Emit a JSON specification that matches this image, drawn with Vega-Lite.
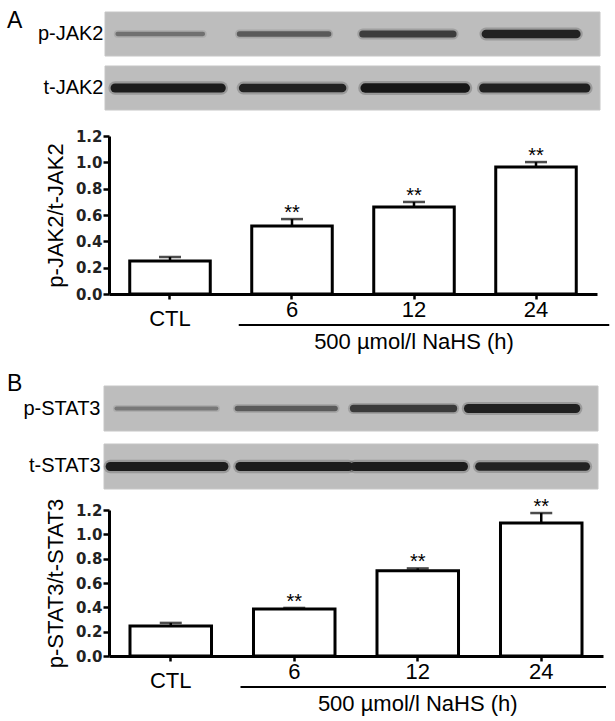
{
  "$schema": "https://vega.github.io/schema/vega-lite/v6.json",
  "padding": {"left": 7, "top": 0, "right": 5, "bottom": 5},
  "background": "white",
  "bounds": "flush",
  "spacing": 0,
  "config": {"view": {"stroke": null}, "font": "Liberation Sans"},
  "datasets": {
    "rowsA": [{"row": "p-JAK2"}, {"row": "t-JAK2"}],
    "rowsB": [{"row": "p-STAT3"}, {"row": "t-STAT3"}],
    "bandsA": [
      {"row": "p-JAK2", "lane": "CTL", "x0": 0.07, "x1": 0.77, "density": 0.35},
      {"row": "p-JAK2", "lane": "6", "x0": 1.07, "x1": 1.8, "density": 0.5},
      {"row": "p-JAK2", "lane": "12", "x0": 2.08, "x1": 2.82, "density": 0.7},
      {"row": "p-JAK2", "lane": "24", "x0": 3.09, "x1": 3.83, "density": 0.9},
      {"row": "t-JAK2", "lane": "CTL", "x0": 0.05, "x1": 0.92, "density": 0.95},
      {"row": "t-JAK2", "lane": "6", "x0": 1.1, "x1": 1.91, "density": 0.9},
      {"row": "t-JAK2", "lane": "12", "x0": 2.1, "x1": 2.92, "density": 1.0},
      {"row": "t-JAK2", "lane": "24", "x0": 3.07, "x1": 3.91, "density": 0.92}
    ],
    "bandsB": [
      {"row": "p-STAT3", "lane": "CTL", "x0": 0.06, "x1": 0.87, "density": 0.3},
      {"row": "p-STAT3", "lane": "6", "x0": 1.04, "x1": 1.83, "density": 0.5},
      {"row": "p-STAT3", "lane": "12", "x0": 1.98, "x1": 2.79, "density": 0.72},
      {"row": "p-STAT3", "lane": "24", "x0": 2.91, "x1": 3.78, "density": 0.92},
      {"row": "t-STAT3", "lane": "CTL", "x0": 0.01, "x1": 0.93, "density": 0.95},
      {"row": "t-STAT3", "lane": "6", "x0": 1.06, "x1": 1.94, "density": 0.95},
      {"row": "t-STAT3", "lane": "12", "x0": 1.99, "x1": 2.87, "density": 0.95},
      {"row": "t-STAT3", "lane": "24", "x0": 3.0, "x1": 3.86, "density": 0.9}
    ],
    "barsA": [
      {"group": "CTL", "value": 0.251, "err": 0.281, "sig": ""},
      {"group": "6", "value": 0.516, "err": 0.569, "sig": "**"},
      {"group": "12", "value": 0.66, "err": 0.699, "sig": "**"},
      {"group": "24", "value": 0.964, "err": 1.002, "sig": "**"}
    ],
    "barsB": [
      {"group": "CTL", "value": 0.247, "err": 0.272, "sig": ""},
      {"group": "6", "value": 0.386, "err": 0.395, "sig": "**"},
      {"group": "12", "value": 0.7, "err": 0.72, "sig": "**"},
      {"group": "24", "value": 1.093, "err": 1.175, "sig": "**"}
    ],
    "note": [{"label": "500 µmol/l NaHS (h)"}],
    "panelA": [{"panel": "A"}],
    "panelB": [{"panel": "B"}]
  },
  "vconcat": [
    {
      "width": 488,
      "height": 136,
      "view": {"fill": "white", "stroke": null},
      "resolve": {"scale": {"size": "independent"}},
      "layer": [
        {
          "data": {"name": "rowsA"},
          "mark": {"type": "rect", "fill": "#bdbdbd", "stroke": "#c6c6c6", "strokeWidth": 1, "xOffset": -4, "x2Offset": 3},
          "encoding": {
            "x": {"datum": 0, "type": "quantitative", "scale": {"domain": [0, 4], "nice": false, "zero": false}, "axis": null},
            "x2": {"datum": 4},
            "y": {"field": "row", "type": "nominal", "scale": {"range": [12, 110], "paddingInner": 0.185, "paddingOuter": 0},
              "axis": {"title": null, "domain": false, "ticks": false, "tickSize": 0, "labelFontSize": 20, "labelPadding": 6, "labelColor": "black", "labelFont": "Liberation Sans"}}
          }
        },
        {
          "data": {"name": "bandsA"},
          "mark": {"type": "rule", "strokeCap": "round", "opacity": 0.22},
          "encoding": {
            "x": {"field": "x0", "type": "quantitative"},
            "x2": {"field": "x1"},
            "y": {"field": "row", "type": "nominal"},
            "size": {"field": "density", "type": "quantitative", "scale": {"domain": [0, 1], "range": [4, 14]}, "legend": null},
            "color": {"field": "density", "type": "quantitative", "scale": {"domain": [0, 1], "range": ["#a8a8a8", "#161616"]}, "legend": null}
          }
        },
        {
          "data": {"name": "bandsA"},
          "mark": {"type": "rule", "strokeCap": "round"},
          "encoding": {
            "x": {"field": "x0", "type": "quantitative"},
            "x2": {"field": "x1"},
            "y": {"field": "row", "type": "nominal"},
            "size": {"field": "density", "type": "quantitative", "scale": {"domain": [0, 1], "range": [1.5, 9.5]}, "legend": null},
            "color": {"field": "density", "type": "quantitative", "legend": null}
          }
        },
        {
          "data": {"name": "panelA"},
          "mark": {"type": "text", "align": "left", "baseline": "middle", "fontSize": 23, "dx": -102, "dy": -13, "color": "black"},
          "encoding": {
            "x": {"datum": 0, "type": "quantitative"},
            "y": {"datum": "p-JAK2"},
            "text": {"field": "panel"}
          }
        }
      ]
    },
    {
      "width": 488,
      "height": 158,
      "data": {"name": "barsA"},
      "encoding": {
        "x": {"field": "group", "type": "nominal", "sort": ["CTL", "6", "12", "24"], "scale": {"paddingInner": 0.34, "paddingOuter": 0.17},
          "axis": {"title": null, "labelAngle": 0, "labelFontSize": 22, "labelFont": "Liberation Sans", "labelColor": "black", "tickSize": 5, "tickWidth": 2.5, "tickColor": "black", "domainColor": "black", "domainWidth": 3,
            "labelPadding": {"condition": {"test": "datum.value === 'CTL'", "value": 9}, "value": 0}}}
      },
      "layer": [
        {
          "mark": {"type": "bar", "fill": "white", "stroke": "black", "strokeWidth": 3},
          "encoding": {
            "y": {"field": "value", "type": "quantitative", "scale": {"domain": [0, 1.2], "nice": false},
              "axis": {"values": [0, 0.2, 0.4, 0.6, 0.8, 1.0, 1.2], "tickCount": 7, "format": ".1f", "labelOverlap": false, "labelFont": "DejaVu Sans", "labelFontWeight": "bold", "labelFontSize": 15, "labelColor": "#222222", "tickSize": 6, "tickWidth": 2.5, "tickColor": "black", "domainColor": "black", "domainWidth": 3, "labelPadding": 1, "grid": false, "title": "p-JAK2/t-JAK2", "titleFontSize": 22, "titleFont": "Liberation Sans", "titleFontWeight": "normal", "titleColor": "black", "titlePadding": 8}}
          }
        },
        {
          "mark": {"type": "rule", "strokeWidth": 2.5, "color": "black"},
          "encoding": {
            "y": {"field": "value", "type": "quantitative", "axis": {"values": [0, 0.2, 0.4, 0.6, 0.8, 1.0, 1.2], "tickCount": 7, "labelOverlap": false, "title": "p-JAK2/t-JAK2"}},
            "y2": {"field": "err"}
          }
        },
        {
          "mark": {"type": "tick", "thickness": 2.5, "size": 22, "color": "black"},
          "encoding": {"y": {"field": "err", "type": "quantitative", "axis": {"values": [0, 0.2, 0.4, 0.6, 0.8, 1.0, 1.2], "tickCount": 7, "labelOverlap": false, "title": "p-JAK2/t-JAK2"}}}
        },
        {
          "mark": {"type": "text", "fontSize": 20, "baseline": "alphabetic", "color": "black"},
          "encoding": {"y": {"field": "err", "type": "quantitative", "axis": {"values": [0, 0.2, 0.4, 0.6, 0.8, 1.0, 1.2], "tickCount": 7, "labelOverlap": false, "title": "p-JAK2/t-JAK2"}}, "text": {"field": "sig"}}
        },
        {
          "data": {"name": "note"},
          "mark": {"type": "rule", "strokeWidth": 2, "color": "black", "yOffset": 31, "xOffset": -13, "x2Offset": 33},
          "encoding": {
            "x": {"datum": "6", "bandPosition": 0},
            "x2": {"datum": "24", "bandPosition": 1},
            "y": {"datum": 0, "type": "quantitative", "axis": {"values": [0, 0.2, 0.4, 0.6, 0.8, 1.0, 1.2], "tickCount": 7, "labelOverlap": false, "title": "p-JAK2/t-JAK2"}}
          }
        },
        {
          "data": {"name": "note"},
          "mark": {"type": "text", "fontSize": 22, "baseline": "middle", "dy": 48, "color": "black"},
          "encoding": {
            "x": {"datum": "12"},
            "y": {"datum": 0, "type": "quantitative", "axis": {"values": [0, 0.2, 0.4, 0.6, 0.8, 1.0, 1.2], "tickCount": 7, "labelOverlap": false, "title": "p-JAK2/t-JAK2"}},
            "text": {"field": "label"}
          }
        }
      ]
    },
    {
      "width": 494,
      "height": 216,
      "resolve": {"scale": {"size": "independent"}},
      "layer": [
        {
          "data": {"name": "rowsB"},
          "mark": {"type": "rect", "fill": "#bdbdbd", "stroke": "#c6c6c6", "strokeWidth": 1, "xOffset": -5, "x2Offset": -5},
          "encoding": {
            "x": {"datum": 0, "type": "quantitative", "scale": {"domain": [0, 4], "nice": false, "zero": false}, "axis": null},
            "x2": {"datum": 4},
            "y": {"field": "row", "type": "nominal", "scale": {"range": [92, 195], "paddingInner": 0.224, "paddingOuter": 0},
              "axis": {"title": null, "domain": false, "ticks": false, "tickSize": 0, "labelFontSize": 20, "labelPadding": 9, "labelColor": "black", "labelFont": "Liberation Sans"}}
          }
        },
        {
          "data": {"name": "bandsB"},
          "mark": {"type": "rule", "strokeCap": "round", "opacity": 0.22},
          "encoding": {
            "x": {"field": "x0", "type": "quantitative"},
            "x2": {"field": "x1"},
            "y": {"field": "row", "type": "nominal"},
            "size": {"field": "density", "type": "quantitative", "scale": {"domain": [0, 1], "range": [4, 14]}, "legend": null},
            "color": {"field": "density", "type": "quantitative", "scale": {"domain": [0, 1], "range": ["#a8a8a8", "#161616"]}, "legend": null}
          }
        },
        {
          "data": {"name": "bandsB"},
          "mark": {"type": "rule", "strokeCap": "round"},
          "encoding": {
            "x": {"field": "x0", "type": "quantitative"},
            "x2": {"field": "x1"},
            "y": {"field": "row", "type": "nominal"},
            "size": {"field": "density", "type": "quantitative", "scale": {"domain": [0, 1], "range": [1.5, 9.5]}, "legend": null},
            "color": {"field": "density", "type": "quantitative", "legend": null}
          }
        },
        {
          "data": {"name": "panelB"},
          "mark": {"type": "text", "align": "left", "baseline": "middle", "fontSize": 23, "dx": -102, "dy": -25, "color": "black"},
          "encoding": {
            "x": {"datum": 0, "type": "quantitative"},
            "y": {"datum": "p-STAT3"},
            "text": {"field": "panel"}
          }
        }
      ]
    },
    {
      "width": 494,
      "height": 146,
      "data": {"name": "barsB"},
      "encoding": {
        "x": {"field": "group", "type": "nominal", "sort": ["CTL", "6", "12", "24"], "scale": {"paddingInner": 0.34, "paddingOuter": 0.17},
          "axis": {"title": null, "labelAngle": 0, "labelFontSize": 22, "labelFont": "Liberation Sans", "labelColor": "black", "tickSize": 5, "tickWidth": 2.5, "tickColor": "black", "domainColor": "black", "domainWidth": 3,
            "labelPadding": {"condition": {"test": "datum.value === 'CTL'", "value": 9}, "value": 0}}}
      },
      "layer": [
        {
          "mark": {"type": "bar", "fill": "white", "stroke": "black", "strokeWidth": 3},
          "encoding": {
            "y": {"field": "value", "type": "quantitative", "scale": {"domain": [0, 1.2], "nice": false},
              "axis": {"values": [0, 0.2, 0.4, 0.6, 0.8, 1.0, 1.2], "tickCount": 7, "format": ".1f", "labelOverlap": false, "labelFont": "DejaVu Sans", "labelFontWeight": "bold", "labelFontSize": 15, "labelColor": "#222222", "tickSize": 6, "tickWidth": 2.5, "tickColor": "black", "domainColor": "black", "domainWidth": 3, "labelPadding": 1, "grid": false, "title": "p-STAT3/t-STAT3", "titleFontSize": 22, "titleFont": "Liberation Sans", "titleFontWeight": "normal", "titleColor": "black", "titlePadding": 8}}
          }
        },
        {
          "mark": {"type": "rule", "strokeWidth": 2.5, "color": "black"},
          "encoding": {
            "y": {"field": "value", "type": "quantitative", "axis": {"values": [0, 0.2, 0.4, 0.6, 0.8, 1.0, 1.2], "tickCount": 7, "labelOverlap": false, "title": "p-STAT3/t-STAT3"}},
            "y2": {"field": "err"}
          }
        },
        {
          "mark": {"type": "tick", "thickness": 2.5, "size": 22, "color": "black"},
          "encoding": {"y": {"field": "err", "type": "quantitative", "axis": {"values": [0, 0.2, 0.4, 0.6, 0.8, 1.0, 1.2], "tickCount": 7, "labelOverlap": false, "title": "p-STAT3/t-STAT3"}}}
        },
        {
          "mark": {"type": "text", "fontSize": 20, "baseline": "alphabetic", "color": "black"},
          "encoding": {"y": {"field": "err", "type": "quantitative", "axis": {"values": [0, 0.2, 0.4, 0.6, 0.8, 1.0, 1.2], "tickCount": 7, "labelOverlap": false, "title": "p-STAT3/t-STAT3"}}, "text": {"field": "sig"}}
        },
        {
          "data": {"name": "note"},
          "mark": {"type": "rule", "strokeWidth": 2, "color": "black", "yOffset": 31, "xOffset": -13, "x2Offset": 24},
          "encoding": {
            "x": {"datum": "6", "bandPosition": 0},
            "x2": {"datum": "24", "bandPosition": 1},
            "y": {"datum": 0, "type": "quantitative", "axis": {"values": [0, 0.2, 0.4, 0.6, 0.8, 1.0, 1.2], "tickCount": 7, "labelOverlap": false, "title": "p-STAT3/t-STAT3"}}
          }
        },
        {
          "data": {"name": "note"},
          "mark": {"type": "text", "fontSize": 22, "baseline": "middle", "dy": 48, "color": "black"},
          "encoding": {
            "x": {"datum": "12"},
            "y": {"datum": 0, "type": "quantitative", "axis": {"values": [0, 0.2, 0.4, 0.6, 0.8, 1.0, 1.2], "tickCount": 7, "labelOverlap": false, "title": "p-STAT3/t-STAT3"}},
            "text": {"field": "label"}
          }
        }
      ]
    }
  ]
}
